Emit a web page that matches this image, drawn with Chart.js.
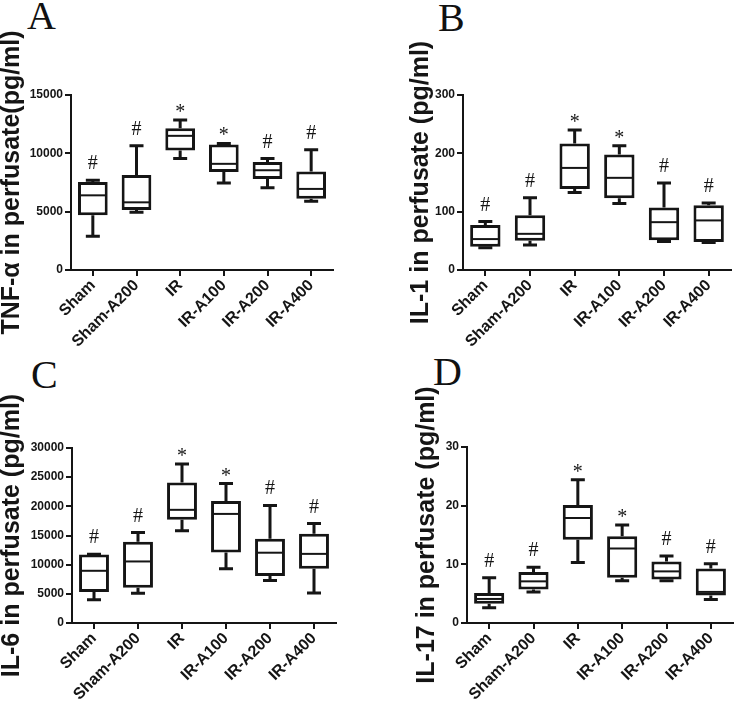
<!DOCTYPE html>
<html>
<head>
<meta charset="utf-8">
<script src="https://cdn.jsdelivr.net/npm/chart.js@4.4.0/dist/chart.umd.min.js"></script>
<style>
  body { margin: 0; background: #fff; width: 734px; height: 709px; position: relative; overflow: hidden; }
  canvas { position: absolute; }
  .letter { position: absolute; font: 40px/40px "Liberation Serif", "Times New Roman", serif; color: #111; }
</style>
</head>
<body>
<div class="letter" style="left:27px;top:-4px">A</div>
<div class="letter" style="left:438px;top:-2px">B</div>
<div class="letter" style="left:31px;top:355px">C</div>
<div class="letter" style="left:433px;top:352px">D</div>
<canvas id="chartA" width="367" height="350" style="left:0;top:0"></canvas>
<canvas id="chartB" width="367" height="350" style="left:367px;top:0"></canvas>
<canvas id="chartC" width="367" height="359" style="left:0;top:350px"></canvas>
<canvas id="chartD" width="367" height="359" style="left:367px;top:350px"></canvas>
<script>
const groups = ['Sham', 'Sham-A200', 'IR', 'IR-A100', 'IR-A200', 'IR-A400'];
const marks = ['#', '#', '*', '*', '#', '#'];

// TNF-alpha (pg/ml)
const tnfMin = [2900, 4950, 9550, 7450, 7050, 5900];
const tnfQ1 = [4700, 5150, 10250, 8400, 7800, 6100];
const tnfMed = [6400, 5800, 11500, 9100, 8550, 6950];
const tnfQ3 = [7550, 8150, 12150, 10750, 9250, 8450];
const tnfMax = [7700, 10650, 12850, 10850, 9550, 10300];
const tnfTicks = [0, 5000, 10000, 15000];

// IL-1 (pg/ml)
const il1Min = [38, 43, 133, 114, 49, 47];
const il1Q1 = [40, 50, 139, 123, 51, 48];
const il1Med = [53, 62, 175, 158, 82, 85];
const il1Q3 = [77, 94, 217, 198, 107, 111];
const il1Max = [83, 124, 240, 213, 149, 115];
const il1Ticks = [0, 100, 200, 300];

// IL-6 (pg/ml)
const il6Min = [4000, 5100, 15800, 9300, 7300, 5150];
const il6Q1 = [5300, 6050, 17700, 12100, 8050, 9300];
const il6Med = [8950, 10550, 19400, 18700, 12050, 11850];
const il6Q3 = [11750, 13950, 24100, 20900, 14450, 15300];
const il6Max = [11800, 15500, 27250, 23900, 20150, 17050];
const il6Ticks = [0, 5000, 10000, 15000, 20000, 25000, 30000];

// IL-17 (pg/ml)
const il17Min = [2.6, 5.3, 10.3, 7.2, 7.2, 4.0];
const il17Q1 = [3.3, 5.7, 14.2, 7.7, 7.4, 4.7];
const il17Med = [4.1, 7.1, 17.9, 12.7, 8.8, 5.3];
const il17Q3 = [5.1, 8.7, 20.1, 14.8, 10.5, 9.3];
const il17Max = [7.7, 9.5, 24.4, 16.7, 11.4, 10.1];
const il17Ticks = [0, 10, 20, 30];

const ink = '#151515';
const sans = '"Liberation Sans", Arial, sans-serif';

// whiskers, median and significance mark for each box
function boxParts(p) {
  return {
    id: 'boxParts',
    afterDatasetsDraw(chart) {
      const { ctx, scales: { x, y } } = chart;
      const bars = chart.getDatasetMeta(0).data;
      ctx.save();
      ctx.strokeStyle = ink;
      ctx.fillStyle = ink;
      for (let i = 0; i < groups.length; i++) {
        const cx = x.getPixelForValue(i);
        const half = bars[i].width / 2;
        const cap = 7;
        const yLo = y.getPixelForValue(p.min[i]);
        const y1 = y.getPixelForValue(p.q1[i]);
        const yMed = y.getPixelForValue(p.med[i]);
        const y3 = y.getPixelForValue(p.q3[i]);
        const yHi = y.getPixelForValue(p.max[i]);

        ctx.lineWidth = 3;
        ctx.beginPath();
        ctx.moveTo(cx, y3); ctx.lineTo(cx, yHi);
        ctx.moveTo(cx - cap, yHi); ctx.lineTo(cx + cap, yHi);
        ctx.moveTo(cx, y1); ctx.lineTo(cx, yLo);
        ctx.moveTo(cx - cap, yLo); ctx.lineTo(cx + cap, yLo);
        ctx.stroke();

        ctx.lineWidth = 2;
        ctx.beginPath();
        ctx.moveTo(cx - half + 2, yMed); ctx.lineTo(cx + half - 2, yMed);
        ctx.stroke();

        const m = marks[i];
        ctx.font = '20px "Liberation Serif", "Times New Roman", serif';
        ctx.textAlign = 'center';
        ctx.textBaseline = 'alphabetic';
        const tm = ctx.measureText(m);
        const centerY = yHi - (m === '#' ? 18 : 12);
        ctx.fillText(m, cx, centerY + (tm.actualBoundingBoxAscent - tm.actualBoundingBoxDescent) / 2);
      }
      ctx.restore();
    }
  };
}

function makeChart(id, p) {
  const canvas = document.getElementById(id);
  const a = p.area;
  new Chart(canvas, {
    type: 'bar',
    data: {
      labels: groups,
      datasets: [{
        data: p.q1.map((v, i) => [v, p.q3[i]]),
        backgroundColor: '#fff',
        borderColor: ink,
        borderWidth: 3,
        borderSkipped: false,
        barPercentage: 0.68,
        categoryPercentage: 1
      }]
    },
    options: {
      responsive: false,
      animation: false,
      layout: { padding: { left: p.padLeft, top: a.top, right: canvas.width - a.right, bottom: 0 } },
      plugins: { legend: { display: false }, tooltip: { enabled: false } },
      scales: {
        x: {
          grid: { offset: false, drawOnChartArea: false, color: ink, lineWidth: 2, tickLength: 6 },
          border: { color: ink, width: 2 },
          ticks: { color: ink, font: { family: sans, size: 16, weight: 'bold' }, minRotation: 45, maxRotation: 45, padding: 0 },
          afterFit: s => { s.height = canvas.height - a.bottom; }
        },
        y: {
          min: 0,
          max: p.ticks[p.ticks.length - 1],
          grid: { drawOnChartArea: false, color: ink, lineWidth: 2, tickLength: 6 },
          border: { color: ink, width: 2 },
          ticks: { color: ink, font: { family: sans, size: 12, weight: 'bold' }, padding: 2, callback: v => String(v) },
          afterBuildTicks: s => { s.ticks = p.ticks.map(v => ({ value: v })); },
          title: {
            display: true,
            text: p.title,
            color: ink,
            padding: 0,
            font: { family: sans, size: 25, weight: 'bold', lineHeight: 1 }
          },
          afterFit: s => { s.width = a.left - p.padLeft; }
        }
      }
    },
    plugins: [boxParts(p)]
  });
}

makeChart('chartA', {
  title: 'TNF-α in perfusate(pg/ml)', ticks: tnfTicks,
  min: tnfMin, q1: tnfQ1, med: tnfMed, q3: tnfQ3, max: tnfMax,
  padLeft: 0, area: { left: 71, top: 95, right: 333, bottom: 270 }
});
makeChart('chartB', {
  title: 'IL-1 in perfusate (pg/ml)', ticks: il1Ticks,
  min: il1Min, q1: il1Q1, med: il1Med, q3: il1Q3, max: il1Max,
  padLeft: 42, area: { left: 96, top: 95, right: 364, bottom: 270 }
});
makeChart('chartC', {
  title: 'IL-6 in perfusate (pg/ml)', ticks: il6Ticks,
  min: il6Min, q1: il6Q1, med: il6Med, q3: il6Q3, max: il6Max,
  padLeft: 0, area: { left: 72, top: 98, right: 336, bottom: 273 }
});
makeChart('chartD', {
  title: 'IL-17 in perfusate (pg/ml)', ticks: il17Ticks,
  min: il17Min, q1: il17Q1, med: il17Med, q3: il17Q3, max: il17Max,
  padLeft: 48, area: { left: 100, top: 97, right: 366, bottom: 273 }
});
</script>
</body>
</html>
